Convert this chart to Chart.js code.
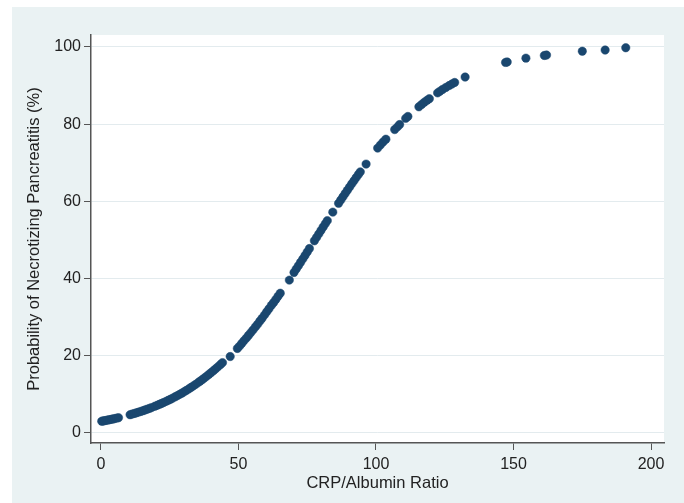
<!DOCTYPE html>
<html>
<head>
<meta charset="utf-8">
<script src="https://cdn.jsdelivr.net/npm/chart.js@4"></script>
<style>
  html, body { margin: 0; padding: 0; background: #fff; }
  #wrap { position: absolute; left: 12px; top: 7px; width: 672px; height: 496px; background: #eaf2f3; }
  #chart { display: block; }
</style>
</head>
<body>
<div id="wrap"><canvas id="chart" width="672" height="496"></canvas></div>
<script>
// CRP/Albumin ratio (x) vs predicted probability of necrotizing pancreatitis (%)
const crpAlbumin = [
  0.3, 0.8, 1.3, 1.9, 2.5, 3.1, 3.8, 4.4, 5.0, 5.7, 6.4,
  10.6, 11.4, 12.2, 13.0, 13.7, 14.5, 15.3, 16.0, 16.8, 17.6, 18.4,
  19.6, 20.5, 21.3, 22.0, 22.8, 23.7, 24.5, 25.3, 26.1, 27.0, 27.8, 28.6, 29.4, 30.2,
  31.0, 31.9, 32.7, 33.5, 34.3, 35.2, 36.0, 36.8, 37.6, 38.5, 39.3, 40.1, 41.0, 41.8,
  42.6, 43.5, 44.2, 47.0,
  49.6, 50.4, 51.2, 52.0, 52.9, 53.7, 54.5, 55.3, 56.2, 57.0, 57.8, 58.6, 59.5, 60.3,
  61.1, 62.0, 62.8, 63.6, 64.4, 65.2, 68.5,
  70.2, 71.0, 71.8, 72.6, 73.4, 74.2, 75.0, 75.8,
  77.6, 78.4, 79.2, 80.0, 80.8, 81.6, 82.3, 84.3,
  86.4, 87.2, 88.0, 88.8, 89.6, 90.4, 91.2, 92.0, 92.8, 93.6, 94.3, 96.4,
  100.6, 101.6, 102.6, 103.6, 106.8, 107.8, 108.6, 110.8, 111.6,
  115.6, 116.6, 117.6, 118.6, 119.4, 122.4, 123.2, 124.2, 125.4, 126.6, 127.6, 128.6,
  132.4, 147.1, 147.7, 154.5, 161.2, 162.0, 175.0, 183.3, 190.8
];
const probNecrotizing = [
  3.04, 3.11, 3.17, 3.26, 3.34, 3.43, 3.54, 3.63, 3.72, 3.84, 3.95,
  4.73, 4.90, 5.06, 5.24, 5.40, 5.58, 5.77, 5.95, 6.15, 6.36, 6.57,
  6.91, 7.18, 7.42, 7.63, 7.89, 8.18, 8.46, 8.74, 9.03, 9.37, 9.67, 9.99, 10.31, 10.65,
  11.00, 11.40, 11.76, 12.14, 12.53, 12.97, 13.38, 13.81, 14.23, 14.73, 15.19, 15.65, 16.19, 16.68,
  17.18, 17.76, 18.22, 19.8,
  21.9, 22.5, 23.2, 23.9, 24.6, 25.3, 26.0, 26.7, 27.5, 28.2, 29.0, 29.7, 30.6, 31.4,
  32.2, 33.1, 33.8, 34.6, 35.4, 36.2, 39.6,
  41.58, 42.46, 43.34, 44.22, 45.10, 45.98, 46.87, 47.77,
  49.78, 50.67, 51.57, 52.46, 53.36, 54.24, 55.01, 57.21,
  59.49, 60.35, 61.20, 62.05, 62.89, 63.72, 64.55, 65.35, 66.16, 66.95, 67.64, 69.66,
  73.8, 74.6, 75.4, 76.1, 78.6, 79.3, 79.9, 81.5, 82.0,
  84.5, 85.1, 85.7, 86.2, 86.6, 88.1, 88.5, 89.0, 89.5, 90.0, 90.4, 90.8,
  92.2, 96.0, 96.1, 97.1, 97.8, 97.9, 98.9, 99.2, 99.8
];
const xTicks = [0, 50, 100, 150, 200];
const yTicks = [0, 20, 40, 60, 80, 100];

const points = crpAlbumin.map((x, i) => ({ x: x, y: probNecrotizing[i] }));

const plotBg = {
  id: 'plotBg',
  beforeDraw(chart) {
    const { ctx, chartArea: a } = chart;
    ctx.save();
    ctx.fillStyle = '#ffffff';
    ctx.fillRect(a.left, a.top, a.right - a.left, a.bottom - a.top);
    ctx.restore();
  }
};

const fontFam = '"Liberation Sans", Arial, Helvetica, sans-serif';

new Chart(document.getElementById('chart'), {
  type: 'scatter',
  data: {
    datasets: [{
      data: points,
      backgroundColor: '#1a476f',
      borderColor: '#1a476f',
      borderWidth: 0.5,
      pointRadius: 4.2,
    }]
  },
  options: {
    responsive: false,
    animation: false,
    layout: { padding: { top: 28, right: 20, left: 0, bottom: 0 } },
    plugins: {
      legend: { display: false },
      tooltip: { enabled: false }
    },
    scales: {
      x: {
        type: 'linear',
        min: -3.6,
        max: 204.7,
        afterBuildTicks: (s) => { s.ticks = xTicks.map(v => ({ value: v })); },
        afterFit: (s) => { s.height = 60; },
        grid: { drawOnChartArea: false, drawTicks: true, tickLength: 7, color: '#555', lineWidth: 1 },
        border: { display: true, color: '#555', width: 1.5 },
        ticks: { color: '#222', font: { family: fontFam, size: 16 }, padding: 5, maxRotation: 0 },
        title: {
          display: true,
          text: 'CRP/Albumin Ratio',
          color: '#222',
          font: { family: fontFam, size: 16.5 },
          padding: { top: 0, bottom: 10 }
        }
      },
      y: {
        type: 'linear',
        min: -2.6,
        max: 103.1,
        afterBuildTicks: (s) => { s.ticks = yTicks.map(v => ({ value: v })); },
        afterFit: (s) => { s.width = 79; },
        grid: { color: '#e3ebee', lineWidth: 1, drawTicks: true, tickLength: 7, tickColor: '#555' },
        border: { display: true, color: '#555', width: 1.5 },
        ticks: { color: '#222', font: { family: fontFam, size: 16 }, padding: 3 },
        title: {
          display: true,
          text: 'Probability of Necrotizing Pancreatitis (%)',
          color: '#222',
          font: { family: fontFam, size: 16.5 },
          padding: { top: 13, bottom: 0 }
        }
      }
    }
  },
  plugins: [plotBg]
});
</script>
</body>
</html>
